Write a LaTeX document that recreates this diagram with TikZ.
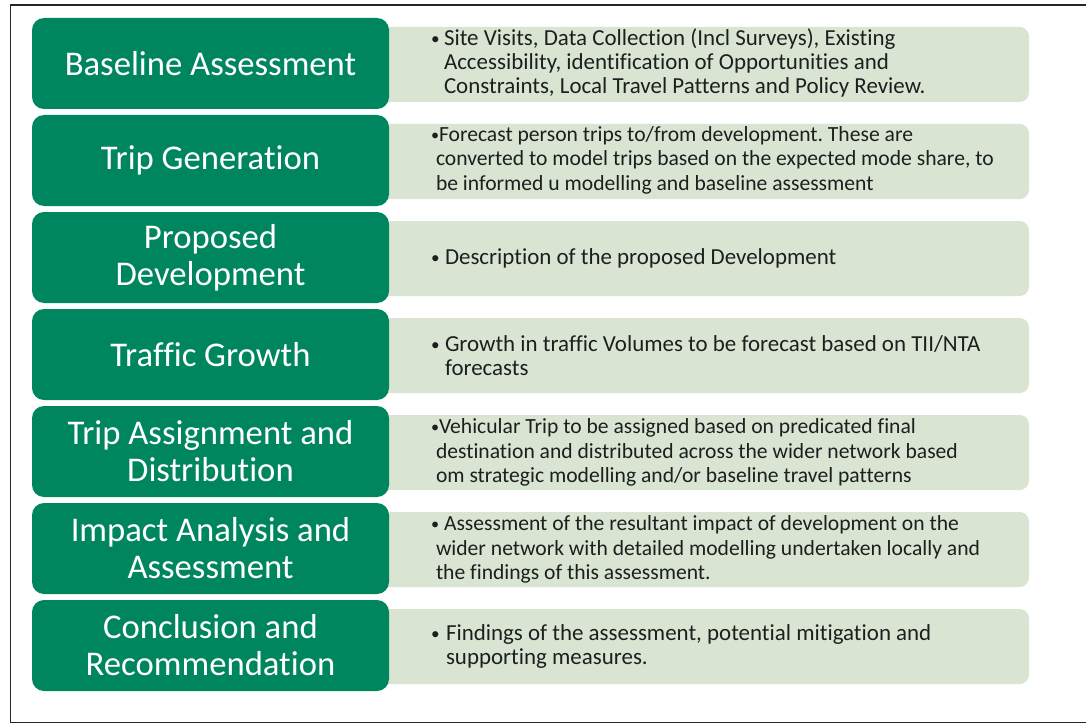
\documentclass[tikz,border=0pt]{standalone}
\usepackage{fontspec}
\setmainfont{Carlito}[Ligatures=NoCommon]
\frenchspacing
\definecolor{stagegreen}{RGB}{0,134,95}
\definecolor{notegreen}{RGB}{217,229,210}
\definecolor{bodytext}{RGB}{30,30,30}
\newcommand{\bul}[1]{\makebox[#1][l]{\raisebox{0.8pt}{\scalebox{0.75}{\textbullet}}}}
\newcommand{\ind}[1]{\hspace*{#1}}
\tikzset{
  stage/.style={fill=stagegreen, rounded corners=9pt, minimum width=267.75pt, minimum height=68.25pt,
    inner sep=0pt, text=white, align=center, font=\fontsize{26}{27.75}\selectfont},
  note/.style={fill=notegreen, rounded corners=7pt, minimum width=486.75pt, minimum height=56.25pt, inner sep=0pt},
  body/.style={anchor=west, inner sep=0pt, align=left, text=bodytext, font=\fontsize{17.2}{18}\selectfont},
  smallbody/.style={body, font=\fontsize{16.2}{18.4}\selectfont}
}
\begin{document}
\begin{tikzpicture}[x=0.75pt,y=-0.75pt]
	\useasboundingbox (0,0) rectangle (1086,724);
	\draw[line width=1.1pt, draw=black!85] (10.5,5) rectangle (1095,722.5);
	% light boxes first, the green ones sit over their left ends
	\foreach \i in {1,...,7}
		\node[note] (note\i) at (704.5,{64.5+97*(\i-1)}) {};
	\foreach \i/\name in {1/Baseline Assessment, 2/Trip Generation, 3/{Proposed\\Development},
		4/Traffic Growth, 5/{Trip Assignment and\\Distribution}, 6/{Impact Analysis and\\Assessment},
		7/{Conclusion and\\Recommendation}}
		\node[stage] (stage\i) at (210.5,{63.5+97*(\i-1)}) {\name};
	% bullet texts
	\node[body] (txt1) at ([xshift=38.25pt,yshift=1pt]note1.west) {\bul{9.75pt}Site Visits, Data Collection (Incl Surveys), Existing\\
		\ind{9.75pt}Accessibility, identification of Opportunities and\\
		\ind{9.75pt}Constraints, Local Travel Patterns and Policy Review.};
	\node[smallbody] (txt2) at ([xshift=38.25pt,yshift=1pt]note2.west) {\bul{6pt}Forecast person trips to/from development. These are\\
		\ind{3.75pt}converted to model trips based on the expected mode share, to\\
		\ind{3.75pt}be informed u modelling and baseline assessment};
	\node[body] (txt3) at ([xshift=38.25pt]note3.west) {\bul{10.5pt}Description of the proposed Development};
	\node[body] (txt4) at ([xshift=38.25pt]note4.west) {\bul{10.5pt}Growth in traffic Volumes to be forecast based on TII/NTA\\
		\ind{10.5pt}forecasts};
	\node[smallbody] (txt5) at ([xshift=38.25pt]note5.west) {\bul{6pt}Vehicular Trip to be assigned based on predicated final\\
		\ind{3.75pt}destination and distributed across the wider network based\\
		\ind{3.75pt}om strategic modelling and/or baseline travel patterns};
	\node[smallbody] (txt6) at ([xshift=38.25pt]note6.west) {\bul{9.75pt}Assessment of the resultant impact of development on the\\
		\ind{3.75pt}wider network with detailed modelling undertaken locally and\\
		\ind{3.75pt}the findings of this assessment.};
	\node[body] (txt7) at ([xshift=38.25pt]note7.west) {\bul{11.25pt}Findings of the assessment, potential mitigation and\\
		\ind{11.25pt}supporting measures.};
\end{tikzpicture}
\end{document}
